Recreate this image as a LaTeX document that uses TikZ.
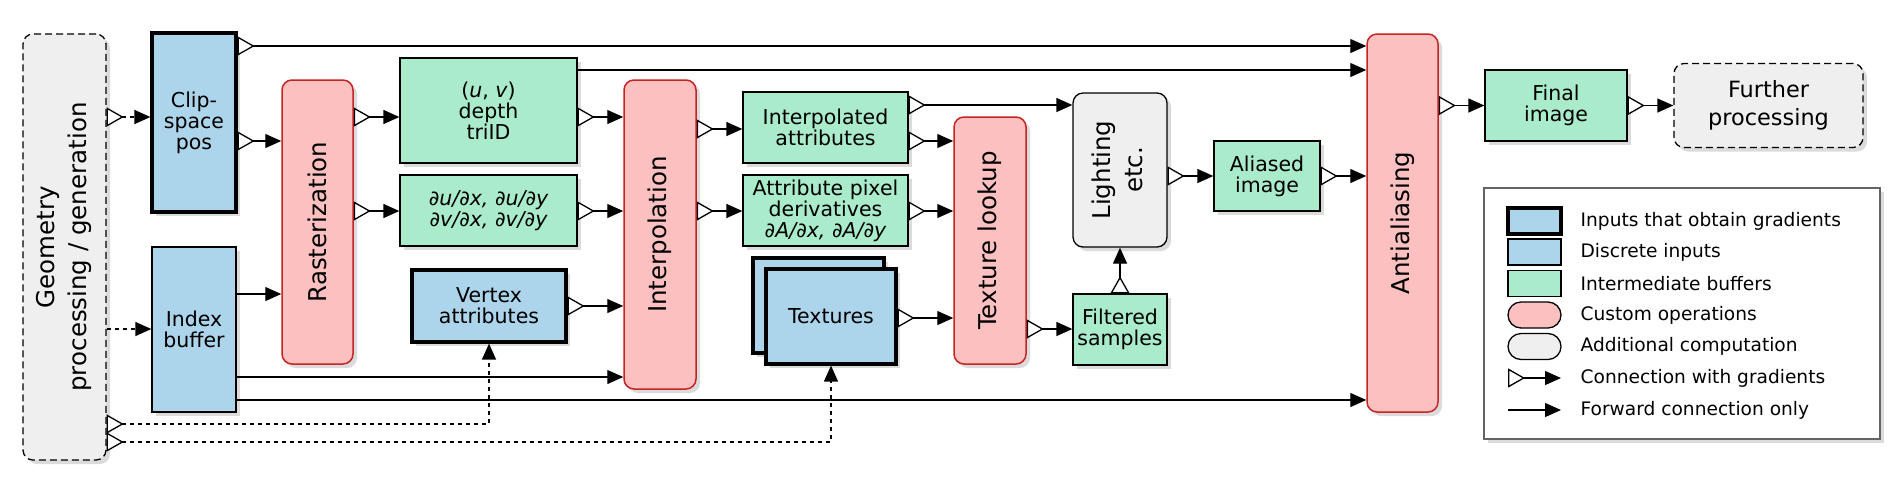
\documentclass[tikz,border=0pt]{standalone}
\usepackage{fontspec}
\setmainfont{DejaVu Sans}
\usepackage{graphicx}
\usetikzlibrary{arrows.meta,shadows}
\definecolor{bluef}{RGB}{172,212,235}
\definecolor{greenf}{RGB}{169,235,202}
\definecolor{pinkf}{RGB}{252,192,192}
\definecolor{redd}{RGB}{196,36,36}
\definecolor{grayf}{RGB}{239,239,239}
\definecolor{legd}{RGB}{100,100,100}

\begin{document}
\begin{tikzpicture}
            [x=0.5pt, y=-0.5pt, line width=0.65pt,
             >={Triangle[length=8pt,width=7pt]},
             grad/.style={{Triangle[open,fill=white,reversed,length=8.5pt,width=9.5pt]}->},
             fwd/.style={->},
             gdash/.style={dash pattern=on 2pt off 2pt},
             bdash/.style={dash pattern=on 3.5pt off 2pt},
             boxshadow/.style={drop shadow={shadow xshift=2pt,shadow yshift=-2pt,fill=black!14,opacity=1}},
             base/.style={draw, align=center, inner sep=0pt, boxshadow, font=\fontsize{10.25}{10.5}\selectfont},
             inbox/.style={base, fill=bluef, line width=1.6pt},
             dbox/.style={base, fill=bluef},
             buf/.style={base, fill=greenf},
             op/.style={base, fill=pinkf, draw=redd, line width=0.75pt, rounded corners=5pt, font=\fontsize{12.25}{16}\selectfont},
             extra/.style={base, fill=grayf, rounded corners=5pt, font=\fontsize{12.25}{16}\selectfont},
             swatch/.style={draw, minimum width=26.5pt, minimum height=13pt, inner sep=0pt},
             legtext/.style={anchor=west, inner sep=0pt, font=\fontsize{9.3}{11}\selectfont}]
            \useasboundingbox (0,0) rectangle (1894,484);

            \node[extra, bdash, minimum width=41.5pt, minimum height=213pt] (geo) at (64.5, 247) {\rotatebox{90}{\begin{tabular}{@{}c@{}}Geometry\\processing / generation\end{tabular}}};
            \node[inbox, minimum width=42pt, minimum height=89.5pt] (clip) at (194, 122.5) {Clip-\\space\\pos};
            \node[dbox, minimum width=42pt, minimum height=82.5pt] (idx) at (194, 329.5) {Index\\buffer};
            \node[op, minimum width=35.5pt, minimum height=142pt] (ras) at (317.5, 222) {\rotatebox{90}{Rasterization}};
            \node[buf, minimum width=88.5pt, minimum height=52.5pt] (uvd) at (488.5, 110.5) {(\textit{u}, \textit{v})\\depth\\triID};
            \node[buf, minimum width=88.5pt, minimum height=35.5pt] (duv) at (488.5, 210.5) {\itshape ∂u/∂x, ∂u/∂y\\\itshape ∂v/∂x, ∂v/∂y};
            \node[inbox, minimum width=77pt, minimum height=36pt] (vtx) at (489, 306) {Vertex\\attributes};
            \node[op, minimum width=36pt, minimum height=154.5pt] (itp) at (660, 234.5) {\rotatebox{90}{Interpolation}};
            \node[buf, minimum width=82.5pt, minimum height=35.5pt] (iatt) at (825.5, 127.5) {Interpolated\\attributes};
            \node[buf, minimum width=82.5pt, minimum height=35.5pt] (drv) at (825.5, 210.5) {Attribute pixel\\derivatives\\\itshape ∂A/∂x, ∂A/∂y};
            \node[inbox, minimum width=65.5pt, minimum height=47.5pt] (texb) at (818.5, 305.5) {};
            \node[inbox, minimum width=65pt, minimum height=47.5pt] (tex) at (831, 316.5) {Textures};
            \node[op, minimum width=36pt, minimum height=123.5pt] (tlu) at (990, 240.5) {\rotatebox{90}{Texture lookup}};
            \node[extra, minimum width=47pt, minimum height=77pt] (lgt) at (1120, 170) {\rotatebox{90}{\begin{tabular}{@{}c@{}}Lighting\\etc.\end{tabular}}};
            \node[buf, minimum width=47pt, minimum height=35.5pt] (fsm) at (1120, 329.5) {Filtered\\samples};
            \node[buf, minimum width=53pt, minimum height=35pt] (ali) at (1267, 176) {Aliased\\image};
            \node[op, minimum width=35.5pt, minimum height=189pt] (aa) at (1402.5, 223) {\rotatebox{90}{Antialiasing}};
            \node[buf, minimum width=71pt, minimum height=35.5pt] (fin) at (1556, 105.5) {Final\\image};
            \node[extra, bdash, minimum width=94.5pt, minimum height=42pt, font=\fontsize{11.2}{14}\selectfont] (fur) at (1768.5, 105.5) {Further\\processing};

            \path [grad, gdash] (geo.east |- 0,117) edge (clip.west |- 0,117);
            \path [fwd, gdash] (geo.east |- 0,329) edge (idx.west |- 0,329);
            \path [grad] (clip.east |- 0,46) edge (aa.west |- 0,46);
            \path [grad] (clip.east |- 0,141) edge (ras.west |- 0,141);
            \path [fwd] (idx.east |- 0,294) edge (ras.west |- 0,294);
            \path [fwd] (idx.east |- 0,377) edge (itp.west |- 0,377);
            \path [fwd] (idx.east |- 0,400) edge (aa.west |- 0,400);
            \path [grad] (ras.east |- 0,117) edge (uvd.west |- 0,117);
            \path [grad] (ras.east |- 0,211) edge (duv.west |- 0,211);
            \path [fwd] (uvd.east |- 0,70) edge (aa.west |- 0,70);
            \path [grad] (uvd.east |- 0,117) edge (itp.west |- 0,117);
            \path [grad] (duv.east |- 0,211) edge (itp.west |- 0,211);
            \path [grad] (vtx.east |- 0,306) edge (itp.west |- 0,306);
            \path [grad] (itp.east |- 0,129) edge (iatt.west |- 0,129);
            \path [grad] (itp.east |- 0,211) edge (drv.west |- 0,211);
            \path [grad] (iatt.east |- 0,105) edge (lgt.west |- 0,105);
            \path [grad] (iatt.east |- 0,141) edge (tlu.west |- 0,141);
            \path [grad] (drv.east |- 0,211) edge (tlu.west |- 0,211);
            \path [grad] (tex.east |- 0,318) edge (tlu.west |- 0,318);
            \path [grad] (tlu.east |- 0,329) edge (fsm.west |- 0,329);
            \path [grad] (fsm) edge (lgt);
            \path [grad] (lgt.east |- ali) edge (ali);
            \path [grad] (ali) edge (aa.west |- ali);
            \path [grad] (aa.east |- fin) edge (fin);
            \path [grad] (fin) edge (fur);
            \draw [grad, gdash] (geo.east |- 0,424) -| (vtx.south);
            \draw [grad, gdash] (geo.east |- 0,442) -| (tex.south);

            \node[draw=legd, line width=0.6pt, minimum width=198pt, minimum height=125.5pt, boxshadow, fill=white] (legend) at (1682, 313.5) {};
            \node[swatch, fill=bluef, line width=1.6pt] (l1) at (1534.5, 221) {};
            \node[swatch, fill=bluef] (l2) at (1534.5, 252) {};
            \node[swatch, fill=greenf] (l3) at (1534.5, 283.5) {};
            \node[swatch, fill=pinkf, rounded corners=6.5pt] (l4) at (1534.5, 315) {};
            \node[swatch, fill=grayf, rounded corners=6.5pt] (l5) at (1534.5, 346.5) {};
            \coordinate (l6a) at (1508, 378);
            \coordinate (l6b) at (1561, 378);
            \coordinate (l7a) at (1508, 410);
            \coordinate (l7b) at (1561, 410);
            \path [grad] (l6a) edge (l6b);
            \path [fwd] (l7a) edge (l7b);
            \node[legtext] (t1) at (1580, 221) {Inputs that obtain gradients};
            \node[legtext] (t2) at (1580, 252) {Discrete inputs};
            \node[legtext] (t3) at (1580, 283.5) {Intermediate buffers};
            \node[legtext] (t4) at (1580, 315) {Custom operations};
            \node[legtext] (t5) at (1580, 346.5) {Additional computation};
            \node[legtext] (t6) at (1580, 378) {Connection with gradients};
            \node[legtext] (t7) at (1580, 410) {Forward connection only};
        \end{tikzpicture}
\end{document}
